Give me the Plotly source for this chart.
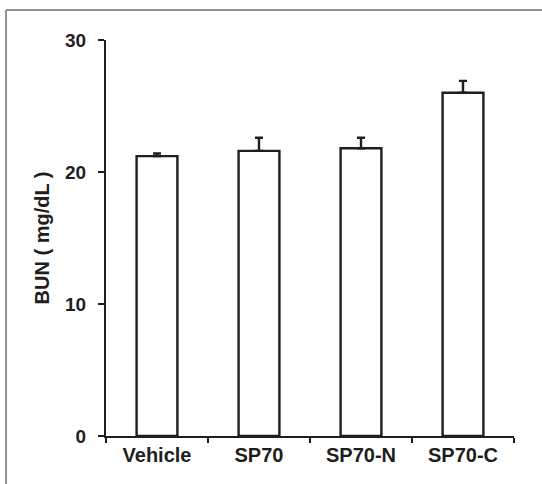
import plotly.graph_objects as go

categories = ["Vehicle", "SP70", "SP70-N", "SP70-C"]
bun_mean = [21.2, 21.6, 21.8, 26.0]
bun_sem = [0.2, 1.0, 0.8, 0.9]
y_ticks = [0, 10, 20, 30]

FONT = "Liberation Sans, Arial, sans-serif"
INK = "#1e1e1e"

fig = go.Figure()
fig.add_trace(go.Bar(
    x=categories,
    y=bun_mean,
    width=0.4,
    marker=dict(color="white", line=dict(color=INK, width=2.4)),
    error_y=dict(type="data", array=bun_sem, arrayminus=[0] * len(bun_sem),
                 symmetric=False, color=INK, thickness=2.4, width=4),
    showlegend=False,
))

fig.update_layout(
    width=542, height=484,
    margin=dict(l=106, r=28, t=40, b=48),
    paper_bgcolor="white", plot_bgcolor="white",
    font=dict(family=FONT, size=20, color=INK, weight="bold"),
    xaxis=dict(
        type="category", range=[-0.5, 3.5],
        showline=True, linecolor=INK, linewidth=2.2,
        ticks="outside", tickson="boundaries", ticklen=5, tickwidth=2, tickcolor=INK,
        showgrid=False, zeroline=False,
        tickfont=dict(family=FONT, size=20, color=INK, weight="bold"),
        automargin=False,
    ),
    yaxis=dict(
        range=[0, 30], tickvals=y_ticks,
        showline=True, linecolor=INK, linewidth=2.2,
        ticks="outside", ticklen=6, tickwidth=2, tickcolor=INK,
        ticklabelstandoff=8,
        showgrid=False, zeroline=False,
        tickfont=dict(family=FONT, size=19, color=INK, weight="bold"),
        title=dict(text="BUN ( mg/dL )", standoff=10,
                   font=dict(family=FONT, size=20, color=INK, weight="bold")),
        automargin=False,
    ),
    shapes=[
        dict(type="line", xref="paper", yref="paper",
             x0=-0.245, x1=1.2, y0=1.076, y1=1.076,
             line=dict(color="#909090", width=2)),
        dict(type="line", xref="paper", yref="paper",
             x0=-0.245, x1=-0.245, y0=1.076, y1=-0.2,
             line=dict(color="#909090", width=2)),
    ],
)

fig.write_html("out.html", config={"displayModeBar": False},
               post_script="document.body.style.margin='0';")
